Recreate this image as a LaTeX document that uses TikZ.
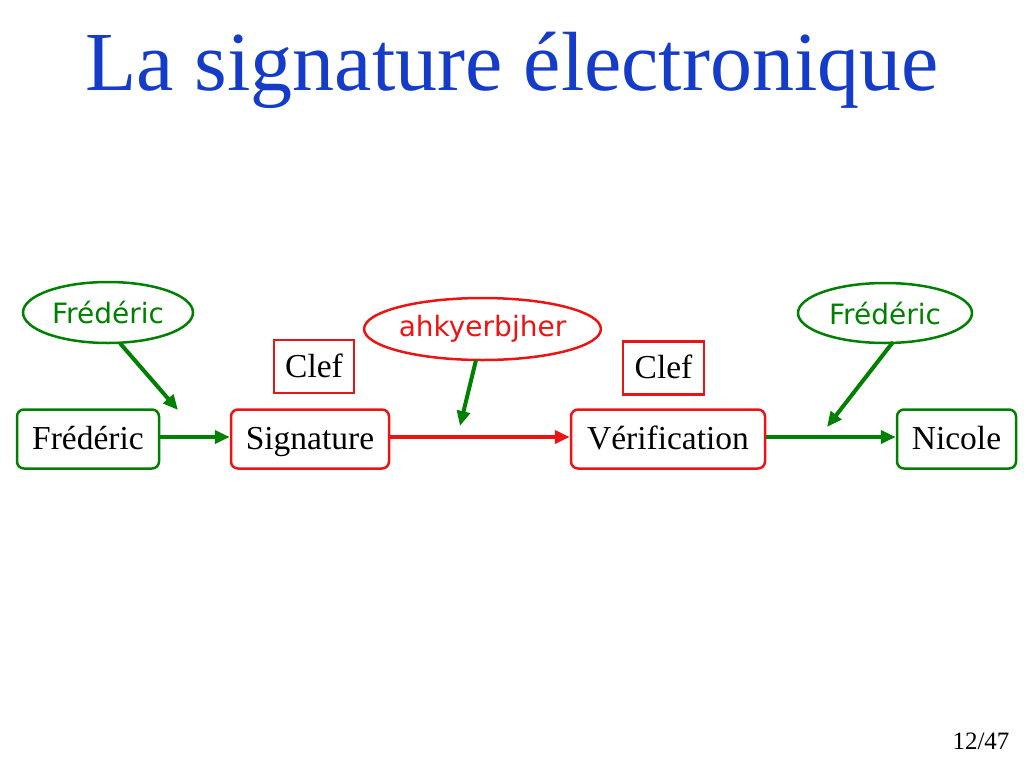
\documentclass[tikz,border=0pt]{standalone}
\usepackage{fontspec}
\setmainfont{Liberation Serif}
\newfontfamily\comicf{DejaVu Sans}
\usetikzlibrary{arrows.meta,shapes.geometric}
\definecolor{tgreen}{RGB}{0,128,0}
\definecolor{tred}{RGB}{235,20,20}
\definecolor{tblue}{RGB}{20,60,200}
\begin{document}
\begin{tikzpicture}[x=1pt,y=-1pt,
  boxtext/.style={font=\fontsize{33.5}{33.5}\selectfont,text height=22pt,text depth=1pt},
  gbox/.style={boxtext,draw=tgreen,line width=2.5pt,rounded corners=7pt,minimum height=59pt,inner sep=0pt},
  rbox/.style={boxtext,draw=tred,line width=2.5pt,rounded corners=7pt,minimum height=59pt,inner sep=0pt},
  keybox/.style={boxtext,draw=tred,line width=2.5pt,minimum height=53pt,inner sep=0pt},
  gell/.style={ellipse,draw=tgreen,line width=2.5pt,text=tgreen,inner sep=0pt,font=\comicf\fontsize{28}{28}\selectfont},
  rell/.style={ellipse,draw=tred,line width=2.5pt,text=tred,inner sep=0pt,font=\comicf\fontsize{28}{28}\selectfont},
  garr/.style={draw=tgreen,line width=4pt,-{Stealth[length=15pt,width=13pt,inset=0pt]}},
  rarr/.style={draw=tred,line width=4pt,-{Stealth[length=15pt,width=13pt,inset=0pt]}}]
\useasboundingbox (0,0) rectangle (1024,768);
\node[text=tblue,font=\fontsize{84}{84}\selectfont,anchor=base] (title) at (512,90) {La signature électronique};
\node[gbox,minimum width=142pt] (fred) at (88,439) {Frédéric};
\node[rbox,minimum width=158pt] (sig) at (310,439) {Signature};
\node[rbox,minimum width=194pt] (ver) at (668,439) {Vérification};
\node[gbox,minimum width=119pt] (nic) at (956.5,439) {Nicole};
\node[keybox,minimum width=80pt] (k1) at (314,366.5) {Clef};
\node[keybox,minimum width=81pt] (k2) at (663.5,368) {Clef};
\node[gell,minimum width=170pt,minimum height=61pt] (e1) at (108,312.5) {Frédéric};
\node[rell,minimum width=235pt,minimum height=62pt] (e2) at (482.5,329) {ahkyerbjher};
\node[gell,minimum width=174pt,minimum height=60pt] (e3) at (885,313) {Frédéric};
\coordinate (t1) at (178,410);
\coordinate (t2) at (460,426);
\coordinate (t3) at (827,427);
\draw[garr] (fred.east |- 0,437) -- (sig.west |- 0,437);
\draw[rarr] (sig.east |- 0,437) -- (ver.west |- 0,437);
\draw[garr] (ver.east |- 0,437) -- (nic.west |- 0,437);
\draw[garr] (e1.south) ++(12,-1) coordinate (s1) (s1) -- (t1);
\draw[garr] (476,360) -- (t2);
\draw[garr] (893,342) -- (t3);
\node[anchor=base east,font=\fontsize{25}{25}\selectfont] (pg) at (1013,749) {12/47};
\end{tikzpicture}
\end{document}
